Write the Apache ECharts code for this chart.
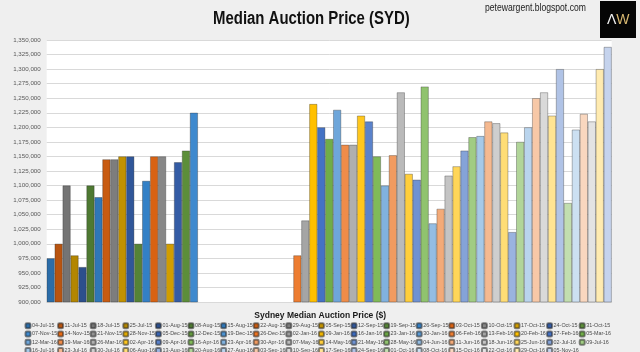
<!DOCTYPE html>
<html><head><meta charset="utf-8">
<script src="https://cdn.jsdelivr.net/npm/echarts@6/dist/echarts.min.js"></script>
<style>html,body{margin:0;padding:0;background:#efefef}#c{width:640px;height:352px}</style>
</head><body><div id="c"></div>
<script>
const weeks = [
 '04-Jul-15','11-Jul-15','18-Jul-15','25-Jul-15','01-Aug-15','08-Aug-15','15-Aug-15','22-Aug-15','29-Aug-15','05-Sep-15','12-Sep-15','19-Sep-15','26-Sep-15','03-Oct-15','10-Oct-15','17-Oct-15','24-Oct-15','31-Oct-15',
 '07-Nov-15','14-Nov-15','21-Nov-15','28-Nov-15','05-Dec-15','12-Dec-15','19-Dec-15','26-Dec-15','02-Jan-16','09-Jan-16','16-Jan-16','23-Jan-16','30-Jan-16','06-Feb-16','13-Feb-16','20-Feb-16','27-Feb-16','05-Mar-16',
 '12-Mar-16','19-Mar-16','26-Mar-16','02-Apr-16','09-Apr-16','16-Apr-16','23-Apr-16','30-Apr-16','07-May-16','14-May-16','21-May-16','28-May-16','04-Jun-16','11-Jun-16','18-Jun-16','25-Jun-16','02-Jul-16','09-Jul-16',
 '16-Jul-16','23-Jul-16','30-Jul-16','06-Aug-16','13-Aug-16','20-Aug-16','27-Aug-16','03-Sep-16','10-Sep-16','17-Sep-16','24-Sep-16','01-Oct-16','08-Oct-16','15-Oct-16','22-Oct-16','29-Oct-16','05-Nov-16'
];
const prices = [
 975000,1000000,1100000,980000,960000,1100000,1080000,1145000,1145000,1150000,1150000,1000000,1108000,1150000,1150000,1000000,1140000,1160000,1225000,
 null,null,null,null,null,null,null,null,null,null,null,null,
 980000,1040000,1240000,1200000,1180000,1230000,1170000,1170000,1220000,1210000,
 1150000,1100000,1152000,1260000,1120000,1110000,1270000,1035000,1060000,1117000,
 1133000,1160000,1183000,1185000,1210000,1207000,1191000,1020000,1175000,1200000,
 1250000,1260000,1220000,1300000,1070000,1196000,1223000,1210000,1300000,1338000
];
const categoryLabel = ['Sydney Median Auction Price ($)'];
const yTicks = {min: 900000, max: 1350000, step: 25000};
const baseColors = ['#5B9BD5','#ED7D31','#A5A5A5','#FFC000','#4472C4','#70AD47'];

function hexToHsl(h){
  const r=parseInt(h.slice(1,3),16)/255,g=parseInt(h.slice(3,5),16)/255,b=parseInt(h.slice(5,7),16)/255;
  const mx=Math.max(r,g,b),mn=Math.min(r,g,b);let H=0,S=0;const L=(mx+mn)/2;
  if(mx!==mn){const d=mx-mn;S=L>0.5?d/(2-mx-mn):d/(mx+mn);
    if(mx===r)H=(g-b)/d+(g<b?6:0);else if(mx===g)H=(b-r)/d+2;else H=(r-g)/d+4;H/=6;}
  return [H,S,L];
}
function hslToHex(H,S,L){
  function f(p,q,t){if(t<0)t+=1;if(t>1)t-=1;if(t<1/6)return p+(q-p)*6*t;if(t<1/2)return q;if(t<2/3)return p+(q-p)*(2/3-t)*6;return p;}
  let r,g,b;if(S===0){r=g=b=L;}else{const q=L<0.5?L*(1+S):L+S-L*S,p=2*L-q;r=f(p,q,H+1/3);g=f(p,q,H);b=f(p,q,H-1/3);}
  return '#'+[r,g,b].map(v=>Math.round(v*255).toString(16).padStart(2,'0')).join('');
}
function colorFor(i){
  const grp=Math.floor(i/6);const [H,S,L]=hexToHsl(baseColors[i%6]);
  let L2;
  if(grp<5) L2=L*(0.7+0.06*grp);
  else L2=L+(1-L)*(grp-5)*0.115;
  return hslToHex(H,S,L2);
}
const FONT = "'Liberation Sans',Arial,sans-serif";

const legends = [];
for(let c=0;c<18;c++){
  const d=[];for(let r=0;r<4;r++){const k=c+r*18;if(k<weeks.length)d.push(weeks[k]);}
  legends.push({orient:'vertical',left:24.5+c*32.6,top:322.3,height:60,padding:0,itemWidth:5,itemHeight:5,itemGap:1.2,
    selectedMode:false,data:d,textStyle:{fontSize:5.4,lineHeight:6.5,color:'#4a4a4a',fontFamily:FONT,padding:[0,0,0,-3.5]}});
}

const chart = echarts.init(document.getElementById('c'),null,{renderer:'canvas'});
chart.setOption({
  animation:false,
  backgroundColor:'#efefef',
  grid:{left:46.7,right:28.3,top:40,bottom:50,show:true,backgroundColor:'#ffffff',borderWidth:0},
  legend:legends,
  xAxis:{type:'category',data:categoryLabel,axisTick:{show:false},
    axisLine:{lineStyle:{color:'#d9d9d9'}},
    axisLabel:{fontSize:8.5,fontWeight:'bold',color:'#1a1a1a',margin:9,padding:[0,18,0,0],fontFamily:FONT}},
  yAxis:{type:'value',min:yTicks.min,max:yTicks.max,interval:yTicks.step,
    axisLine:{show:false},axisTick:{show:false},
    axisLabel:{fontSize:6.2,color:'#595959',margin:6,fontFamily:FONT,formatter:v=>v.toLocaleString('en-US')},
    splitLine:{lineStyle:{color:'#d9d9d9',width:1}}},
  series: weeks.map((w,i)=>({name:w,type:'bar',data:[prices[i]],barGap:'0%',barCategoryGap:'0%',
    itemStyle:{color:colorFor(i),borderColor:'rgba(40,40,40,0.55)',borderWidth:0.6}})),
  graphic:[
    {type:'text',x:213,y:10,scaleX:0.83,style:{text:'Median Auction Price (SYD)',fontSize:18,fontWeight:'bold',fill:'#111',fontFamily:FONT}},
    {type:'text',x:485,y:3.5,scaleX:0.86,style:{text:'petewargent.blogspot.com',fontSize:10,fill:'#222',fontFamily:FONT}},
    {type:'rect',x:600,y:1,shape:{width:36,height:37},style:{fill:'#050505'}},
    {type:'text',x:607,y:13,style:{text:'{a|Λ}{b|W}',rich:{a:{fontSize:14,fill:'#f2f2f2',fontFamily:'Liberation Sans'},b:{fontSize:14,fill:'#d8b870',fontFamily:'Liberation Sans'}}}}
  ]
});
</script></body></html>
